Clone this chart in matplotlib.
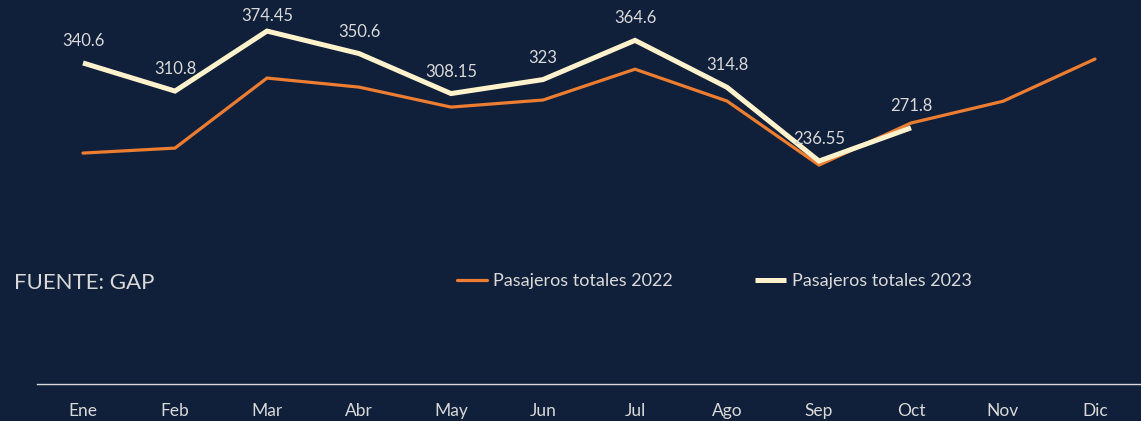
import matplotlib
matplotlib.use("Agg")
from matplotlib import pyplot as plt

# Data
months = ["Ene", "Feb", "Mar", "Abr", "May", "Jun", "Jul", "Ago", "Sep", "Oct", "Nov", "Dic"]
pasajeros_2022 = [245, 250.3, 324.6, 315, 293.8, 301.3, 334, 300.2, 232.3, 276.9, 300, 344.8]
pasajeros_2023 = [340.6, 310.8, 374.45, 350.6, 308.15, 323, 364.6, 314.8, 236.55, 271.8]
labels_2023 = ["340.6", "310.8", "374.45", "350.6", "308.15", "323", "364.6", "314.8", "236.55", "271.8"]

bg = "#10203a"
orange = "#ed7d31"
cream = "#fff2cc"
text_col = "#d9d9d9"

plt.rcParams["font.family"] = ["Lato", "DejaVu Sans"]

fig = plt.figure(figsize=(11.41, 4.21), dpi=100, facecolor=bg)
ax = fig.add_axes([37 / 1141, 37 / 421, 1 - 37 / 1141, 377 / 421])
ax.set_facecolor(bg)

x22 = range(len(pasajeros_2022))
x23 = range(len(pasajeros_2023))
ax.plot(x22, pasajeros_2022, color=orange, lw=2.3, label="Pasajeros totales 2022",
        solid_capstyle="round", solid_joinstyle="miter", zorder=2)
ax.plot(x23, pasajeros_2023, color=cream, lw=3.6, label="Pasajeros totales 2023",
        solid_capstyle="butt", solid_joinstyle="miter", zorder=3)

ax.set_xlim(-0.5, 11.5)
ax.set_ylim(0, 400)

# labels sit above the points, pushed down if they would leave the plot area
top_px = ax.transData.transform((0, 400))[1]
for xi, v, lab in zip(x23, pasajeros_2023, labels_2023):
    py = ax.transData.transform((xi, v))[1]
    off_px = min(22, top_px - py - 9)
    ax.annotate(lab, (xi, v), xytext=(0, off_px * 72 / 100), textcoords="offset points",
                ha="center", va="center", color=text_col, fontsize=12, zorder=4)

ax.set_xticks(list(x22))
ax.set_xticklabels(months)
ax.set_yticks([])
ax.tick_params(axis="x", length=0, pad=14, colors=text_col, labelsize=12.5)
for side in ["top", "left", "right"]:
    ax.spines[side].set_visible(False)
ax.spines["bottom"].set_color("#d9d9d9")
ax.spines["bottom"].set_linewidth(1)

fig.text(14 / 1141, 1 - 283 / 421, "FUENTE: GAP", color=text_col, fontsize=16,
         ha="left", va="center")

leg = fig.legend(loc="center", bbox_to_anchor=(714 / 1141, 1 - 281 / 421), ncol=2,
                 frameon=False, fontsize=13, labelcolor=text_col, handlelength=1.7,
                 handletextpad=0.3, columnspacing=4.6)

fig.savefig("out.png", dpi=100, facecolor=bg)
